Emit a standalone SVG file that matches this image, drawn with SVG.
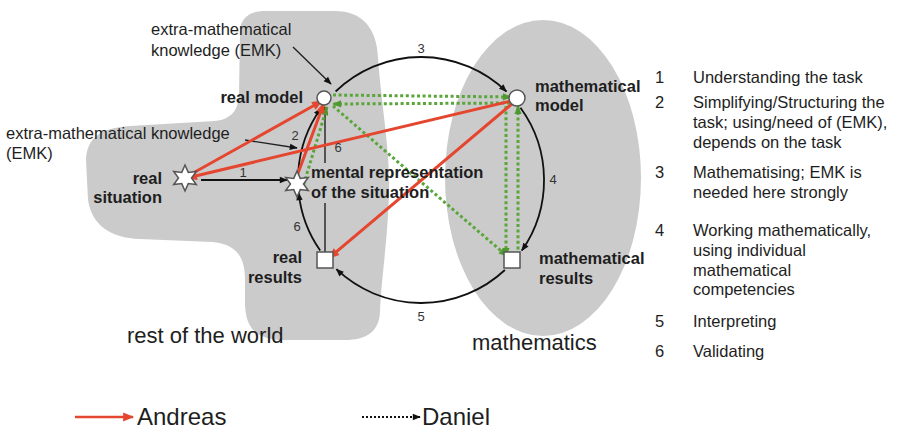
<svg xmlns="http://www.w3.org/2000/svg" width="898" height="429" viewBox="0 0 898 429">
<style>
text{font-family:"Liberation Sans",Arial,sans-serif;fill:#1e1e1e}
.lbl{font-size:16.5px;font-weight:bold}
.reg{font-size:16.5px}
.num{font-size:13px;fill:#333}
.big{font-size:22px}
.leg{font-size:24px}
.blk{fill:none;stroke:#111;stroke-width:1.8}
.thin{fill:none;stroke:#222;stroke-width:1.4}
.red{fill:none;stroke:#e5462f;stroke-width:3;stroke-linecap:round}
.grn{fill:none;stroke:#5aa63a;stroke-width:3;stroke-dasharray:3 2.6}
.node{fill:#fff;stroke:#555;stroke-width:1.5}
.area{fill:#cbcbcb}
</style>
<defs>
<marker id="ab" viewBox="0 0 10 10" refX="9" refY="5" markerWidth="9" markerHeight="8" orient="auto" markerUnits="userSpaceOnUse"><path d="M0,1 L10,5 L0,9 z" fill="#111"/></marker>
<marker id="ar" viewBox="0 0 10 10" refX="9" refY="5" markerWidth="13" markerHeight="11" orient="auto" markerUnits="userSpaceOnUse"><path d="M0,1 L10,5 L0,9 z" fill="#e5462f"/></marker>
<marker id="ag" viewBox="0 0 10 10" refX="9" refY="5" markerWidth="10" markerHeight="9" orient="auto" markerUnits="userSpaceOnUse"><path d="M0,1 L10,5 L0,9 z" fill="#4f9a30"/></marker>
<path id="star" d="M0,-13 L3.25,-5.6 L11.3,-6.5 L6.5,0 L11.3,6.5 L3.25,5.6 L0,13 L-3.25,5.6 L-11.3,6.5 L-6.5,0 L-11.3,-6.5 L-3.25,-5.6 Z"/>
</defs>

<g id="areas">
<path id="rest-of-world" class="area" d="M240,32 C240,18 250,11 265,11 L335,11 C362,11 377,28 378,58 C382,110 390,150 389,190 C388,240 381,280 380,312 C379,332 366,340 345,340 L285,340 C258,340 246,330 245,305 L245,280 C245,255 235,244 212,242 L140,239 C110,238 92,225 88,200 L86,160 C87,138 100,128 130,126 L215,121 C232,119 238,110 239,95 Z"/>
<ellipse id="mathematics-area" class="area" cx="543" cy="178" rx="98" ry="158"/>
</g>

<g id="connectors">
<path class="blk" marker-end="url(#ab)" d="M335.6,91.5 A123,123 0 0 1 506.4,91.5"/>
<path class="blk" marker-end="url(#ab)" d="M520.5,107.7 A123,123 0 0 1 521.8,250.6"/>
<path class="blk" marker-end="url(#ab)" d="M504.9,270 A123,123 0 0 1 336.4,269.2"/>
<path class="blk" marker-end="url(#ab)" d="M320.2,250.6 A123,123 0 0 1 298.7,192.9"/>
<path class="blk" marker-end="url(#ab)" d="M298.3,171.4 A123,123 0 0 1 320.8,108.6"/>
<line class="blk" x1="201" y1="180" x2="287" y2="180" marker-end="url(#ab)"/>
<line class="thin" x1="325" y1="252" x2="325" y2="203"/>
<line class="thin" x1="325" y1="163" x2="325" y2="107" marker-end="url(#ab)"/>
<line class="thin" x1="293" y1="47" x2="331" y2="84" marker-end="url(#ab)"/>
<line class="thin" x1="245" y1="140" x2="297" y2="148" marker-end="url(#ab)"/>

<g id="daniel">
<line class="grn" x1="333" y1="95" x2="511" y2="97" marker-end="url(#ag)"/>
<line class="grn" x1="510" y1="103" x2="333" y2="104" marker-end="url(#ag)"/>
<line class="grn" x1="333" y1="106" x2="507" y2="256" marker-end="url(#ag)"/>
<line class="grn" x1="302" y1="190" x2="327" y2="107" marker-end="url(#ag)"/>
<line class="grn" x1="506" y1="106" x2="506" y2="256" marker-end="url(#ag)"/>
<line class="grn" x1="518" y1="255" x2="518" y2="106" marker-end="url(#ag)"/>
</g>

<g id="andreas">
<line class="red" x1="186" y1="177" x2="322" y2="101" marker-end="url(#ar)"/>
<line class="red" x1="297" y1="176" x2="324" y2="103" marker-end="url(#ar)"/>
<line class="red" x1="515" y1="100" x2="187" y2="178" marker-end="url(#ar)"/>
<line class="red" x1="513" y1="103" x2="329" y2="258" marker-end="url(#ar)"/>
</g>

<g id="cycle-labels">
<text class="num" x="421" y="53" text-anchor="middle">3</text>
<text class="num" x="295" y="140" text-anchor="middle">2</text>
<text class="num" x="338" y="152" text-anchor="middle">6</text>
<text class="num" x="243" y="177" text-anchor="middle">1</text>
<text class="num" x="553" y="184" text-anchor="middle">4</text>
<text class="num" x="297" y="231" text-anchor="middle">6</text>
<text class="num" x="421" y="321" text-anchor="middle">5</text>
</g>
</g>

<g id="real-model">
<circle class="node" cx="324" cy="98" r="7"/>
<text class="lbl" x="303" y="103" text-anchor="end">real model</text>
</g>
<g id="mathematical-model">
<circle class="node" cx="517" cy="98" r="8"/>
<text class="lbl" x="535" y="92">mathematical</text>
<text class="lbl" x="535" y="111">model</text>
</g>
<g id="real-situation">
<use href="#star" x="185" y="178" class="node"/>
<text class="lbl" x="162" y="184" text-anchor="end">real</text>
<text class="lbl" x="162" y="203" text-anchor="end">situation</text>
</g>
<g id="mental-representation">
<use href="#star" x="297" y="184" class="node"/>
<text class="lbl" x="311" y="178">mental representation</text>
<text class="lbl" x="311" y="198">of the situation</text>
</g>
<g id="real-results">
<rect class="node" x="317" y="252" width="16" height="16"/>
<text class="lbl" x="302" y="263" text-anchor="end">real</text>
<text class="lbl" x="302" y="283" text-anchor="end">results</text>
</g>
<g id="mathematical-results">
<rect class="node" x="504" y="252" width="16" height="16"/>
<text class="lbl" x="539" y="264">mathematical</text>
<text class="lbl" x="539" y="284">results</text>
</g>

<g id="emk-labels">
<text class="reg" x="151" y="35">extra-mathematical</text>
<text class="reg" x="151" y="56">knowledge (EMK)</text>
<text class="reg" x="6" y="139">extra-mathematical knowledge</text>
<text class="reg" x="6" y="159">(EMK)</text>
</g>

<g id="area-labels">
<text class="big" x="127" y="343">rest of the world</text>
<text class="big" x="472" y="350">mathematics</text>
</g>

<g id="step-legend">
<text class="reg" x="655" y="83">1</text><text class="reg" x="693" y="83">Understanding the task</text>
<text class="reg" x="655" y="108">2</text><text class="reg" x="693" y="108">Simplifying/Structuring the</text>
<text class="reg" x="693" y="128">task; using/need of (EMK),</text>
<text class="reg" x="693" y="148">depends on the task</text>
<text class="reg" x="655" y="178">3</text><text class="reg" x="693" y="178">Mathematising; EMK is</text>
<text class="reg" x="693" y="198">needed here strongly</text>
<text class="reg" x="655" y="236">4</text><text class="reg" x="693" y="236">Working mathematically,</text>
<text class="reg" x="693" y="256">using individual</text>
<text class="reg" x="693" y="276">mathematical</text>
<text class="reg" x="693" y="295">competencies</text>
<text class="reg" x="655" y="327">5</text><text class="reg" x="693" y="327">Interpreting</text>
<text class="reg" x="655" y="357">6</text><text class="reg" x="693" y="357">Validating</text>
</g>

<g id="person-legend">
<line x1="75" y1="417" x2="133" y2="417" stroke="#e5462f" stroke-width="2.5" marker-end="url(#ar)"/>
<text class="leg" x="137" y="425">Andreas</text>
<line x1="362" y1="417" x2="420" y2="417" stroke="#111" stroke-width="2" stroke-dasharray="2 2" marker-end="url(#ab)"/>
<text class="leg" x="422" y="425">Daniel</text>
</g>
</svg>
